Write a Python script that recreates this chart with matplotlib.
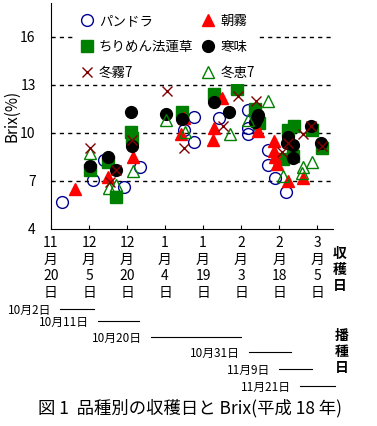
import matplotlib
matplotlib.use("Agg")
import matplotlib.pyplot as plt
from matplotlib.lines import Line2D

plt.rcParams['font.family'] = ['Noto Sans CJK JP', 'DejaVu Sans']

# x = days after 11/20 (harvest day), y = Brix (%)
pandora_x = [4.5, 16.5, 20.9, 28.8, 35.3, 56.6, 52.5, 56.6, 66.5, 77.8, 77.8, 77.8, 85.5, 85.5, 88.4, 92.8]
pandora_y = [5.7, 7.06, 8.31, 6.6, 7.86, 11.0, 10.15, 9.4, 10.9, 11.45, 10.3, 9.95, 8.94, 7.97, 7.17, 6.28]

asagiri_x = [9.5, 22.5, 32.4, 51.2, 52.5, 63.8, 64.5, 67.4, 81.8, 88.2, 88.2, 88.4, 89.1, 93.7, 99.6]
asagiri_y = [6.5, 7.22, 8.5, 9.9, 10.9, 9.53, 10.3, 12.2, 10.1, 9.46, 8.88, 8.5, 8.03, 6.97, 7.17]

chirimen_x = [15.4, 22.6, 25.5, 31.6, 31.9, 51.6, 64.3, 73.5, 80.5, 82.2, 93.5, 95.9, 91.5, 95.7, 102.9, 106.9]
chirimen_y = [7.65, 8.2, 6.0, 10.08, 9.67, 11.27, 12.4, 12.75, 11.5, 10.6, 10.2, 10.45, 8.35, 8.55, 10.2, 9.05]

kanmi_x = [15.4, 22.5, 25.5, 31.6, 32.1, 45.4, 51.6, 64.5, 70.3, 81.8, 81.2, 80.5, 93.4, 93.0, 95.7, 95.7, 102.5, 106.7]
kanmi_y = [7.96, 8.52, 7.65, 11.33, 9.19, 11.16, 10.86, 11.9, 11.33, 11.1, 10.9, 10.7, 9.77, 9.36, 9.25, 8.46, 10.4, 9.36]

tougiri_x = [15.4, 23.3, 25.5, 32.1, 45.7, 52.6, 67.7, 73.7, 80.8, 93.4, 91.1, 99.4, 102.5, 106.8]
tougiri_y = [9.06, 6.94, 7.65, 9.56, 12.64, 9.08, 10.44, 12.31, 11.96, 9.36, 8.83, 9.94, 10.4, 9.19]

touke_x = [15.4, 23.0, 25.5, 32.2, 45.3, 52.9, 70.5, 77.8, 85.5, 91.7, 99.4, 99.0, 102.9]
touke_y = [8.75, 6.54, 6.75, 7.63, 10.81, 10.04, 9.94, 10.81, 11.96, 7.28, 7.89, 7.5, 8.2]

harvest_days = [0, 15, 30, 45, 60, 75, 90, 105]
harvest_labels = ['11\n月\n20\n日', '12\n月\n5\n日', '12\n月\n20\n日', '1\n月\n4\n日',
                  '1\n月\n19\n日', '2\n月\n3\n日', '2\n月\n18\n日', '3\n月\n5\n日']

sow_labels = ['10月2日', '10月11日', '10月20日', '10月31日', '11月9日', '11月21日']
sow_start = [3.6, 18.6, 39.5, 78.2, 90.0, 98.3]
sow_end = [17.0, 34.7, 75.0, 94.7, 103.0, 112.0]

fig = plt.figure(figsize=(3.77, 4.26), dpi=100)
ax = fig.add_axes([51/377, 1-229/426, 282/377, 226/426])

ms = 8.5
ax.plot(pandora_x, pandora_y, 'o', ms=ms, mfc='none', mec='#000090', mew=1, label='パンドラ')
ax.plot(chirimen_x, chirimen_y, 's', ms=ms, color='#008000', label='ちりめん法蓮草')
ax.plot(asagiri_x, asagiri_y, '^', ms=ms+0.5, color='#ff0000', label='朝霧')
ax.plot(kanmi_x, kanmi_y, 'o', ms=ms, color='black', label='寒味')
ax.plot(touke_x, touke_y, '^', ms=ms+0.5, mfc='none', mec='#008000', mew=1, label='冬恵7')
ax.plot(tougiri_x, tougiri_y, 'x', ms=7, mec='#800000', mew=1, label='冬霧7')

for v in [7, 10, 13, 16]:
    ax.axhline(v, color='black', lw=1, ls=(0, (3, 3)), zorder=0)

ax.set_xlim(0, 111.3)
ax.set_ylim(4, 18.1)
ax.set_yticks([4, 7, 10, 13, 16])
ax.set_xticks(harvest_days)
ax.set_xticklabels(harvest_labels, fontsize=10, linespacing=1.25)
ax.tick_params(axis='x', direction='in', length=3, pad=5)
ax.tick_params(axis='y', length=0, pad=11, labelsize=10)
ax.spines['top'].set_visible(False)
ax.spines['right'].set_visible(False)
ax.set_ylabel('Brix(%)', fontsize=11, labelpad=0)

handles = [
    Line2D([], [], ls='none', marker='o', ms=ms, mfc='none', mec='#000090'),
    Line2D([], [], ls='none', marker='s', ms=ms, color='#008000'),
    Line2D([], [], ls='none', marker='x', ms=7, mec='#800000'),
    Line2D([], [], ls='none', marker='^', ms=ms+0.5, color='#ff0000'),
    Line2D([], [], ls='none', marker='o', ms=ms, color='black'),
    Line2D([], [], ls='none', marker='^', ms=ms+0.5, mfc='none', mec='#008000'),
]
labels = ['パンドラ', 'ちりめん法蓮草', '冬霧7', '朝霧', '寒味', '冬恵7']
ax.legend(handles, labels, ncol=2, loc='upper left', bbox_to_anchor=(0.065, 1.0),
          fontsize=9.7, handlelength=1.0, handletextpad=0.4, columnspacing=0.6,
          labelspacing=0.9, borderpad=0.3, frameon=True, facecolor='white',
          edgecolor='none', framealpha=1, fancybox=False)

fig.text(340/377, 1-270/426, '収\n穫\n日', fontsize=10, fontweight='bold',
         ha='center', va='center', linespacing=1.2)
fig.text(342/377, 1-352/426, '播\n種\n日', fontsize=10, fontweight='bold',
         ha='center', va='center', linespacing=1.2)

# sowing dates and harvest spans
sow = fig.add_axes([51/377, 1-395/426, 282/377, 95/426])
sow.set_xlim(ax.get_xlim())
sow.set_ylim(395, 300)
sow.axis('off')
rows = [309, 321, 337, 352, 369, 386]
for lab, a, b, r in zip(sow_labels, sow_start, sow_end, rows):
    sow.plot([a, b], [r, r], color='black', lw=0.8, clip_on=False)
    sow.text(a - 3.5, r + 1, lab, fontsize=8.5, ha='right', va='center', clip_on=False)

fig.text(0.505, 1-408/426, '図 1  品種別の収穫日と Brix(平成 18 年)', fontsize=12.5,
         ha='center', va='center')

fig.savefig('out.png', dpi=100)
